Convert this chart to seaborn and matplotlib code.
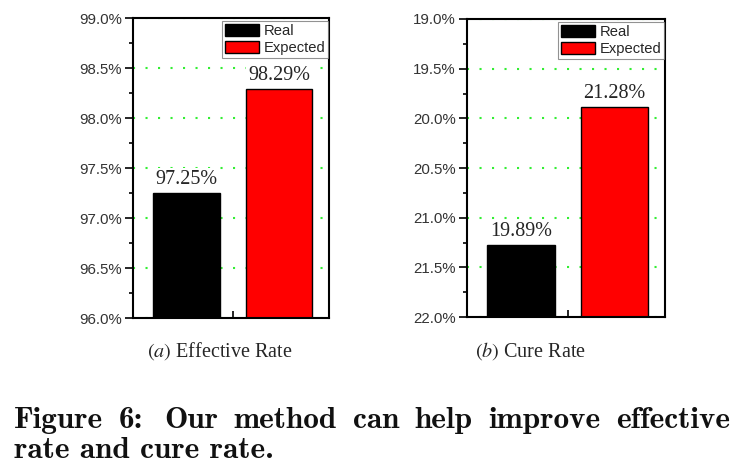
import matplotlib
matplotlib.use("Agg")
import matplotlib.pyplot as plt
from matplotlib.ticker import FixedLocator
from matplotlib.patches import Patch
import seaborn as sns
import pandas as pd

# ---- data ----
categories = ["Real", "Expected"]
effective_rate = [97.25, 98.29]
cure_rate = [19.89, 21.28]
effective_ticks = [96.0, 96.5, 97.0, 97.5, 98.0, 98.5, 99.0]
cure_tick_labels = [19.0, 19.5, 20.0, 20.5, 21.0, 21.5, 22.0]
cure_mirror = 41.17  # the reference's cure-rate axis runs reversed around this sum
bar_colors = ["#000000", "#ff0000"]
panel_titles = [r"$(a)$ Effective Rate", r"$(b)$ Cure Rate"]
caption_lines = ["Figure 6:  Our method can help improve effective",
                 "rate and cure rate."]

sns.set_theme(style="white")
plt.rcParams["mathtext.fontset"] = "stix"
plt.rcParams["font.family"] = ["Liberation Sans", "DejaVu Sans"]

W, H = 740, 475
fig = plt.figure(figsize=(7.4, 4.75), dpi=100)
ax1 = fig.add_axes([133 / W, 1 - 318 / H, 196 / W, 300 / H])
ax2 = fig.add_axes([467 / W, 1 - 317 / H, 198 / W, 298 / H])

palette = dict(zip(categories, bar_colors))


def draw(ax, values, ylim, tick_pos, tick_lab):
    df = pd.DataFrame({"cat": categories, "val": values})
    sns.barplot(data=df, x="cat", y="val", hue="cat", palette=palette,
                order=categories, hue_order=categories, legend=False,
                width=0.72, edgecolor="black", linewidth=1.0, saturation=1,
                ax=ax, zorder=3)
    ax.set_xlim(-0.578, 1.54)
    ax.set_ylim(*ylim)
    ax.set_xlabel("")
    ax.set_ylabel("")
    ax.yaxis.set_major_locator(FixedLocator(tick_pos))
    ax.set_yticklabels([f"{t:.1f}%" for t in tick_lab])
    ax.yaxis.set_minor_locator(FixedLocator(
        [(a + b) / 2 for a, b in zip(tick_pos[:-1], tick_pos[1:])]))
    ax.set_xticks([0.5])
    ax.set_xticklabels([""])
    ax.tick_params(axis="x", direction="in", length=5, width=1.2, bottom=True,
                   colors="black")
    ax.tick_params(axis="y", which="major", direction="out", length=6,
                   width=1.2, left=True, labelsize=10.8, pad=2,
                   labelcolor="#333333", color="black")
    ax.tick_params(axis="y", which="minor", direction="out", length=3,
                   width=1.2, left=True, color="black")
    for sp in ax.spines.values():
        sp.set_visible(True)
        sp.set_color("black")
        sp.set_linewidth(1.5)
        sp.set_zorder(5)
    for y in tick_pos:
        ax.axhline(y, color="#33ee33", linestyle=(0, (1, 5)), linewidth=1.5,
                   zorder=1)
    for bar, v in zip(ax.patches, values):
        ax.annotate(f"{v:.2f}%",
                    xy=(bar.get_x() + bar.get_width() / 2, bar.get_height()),
                    xytext=(0, 3), textcoords="offset points",
                    ha="center", va="bottom", fontsize=14.5,
                    family="Liberation Serif", zorder=4,
                    bbox=dict(facecolor="white", edgecolor="none", pad=1.5))
    handles = [Patch(facecolor=c, edgecolor="black", linewidth=1.0)
               for c in bar_colors]
    leg = ax.legend(handles, categories, loc="upper right",
                    bbox_to_anchor=(0.997, 0.99), fontsize=10.6,
                    frameon=True, fancybox=False, edgecolor="#777777",
                    borderaxespad=0.0, handlelength=2.3, handleheight=0.9,
                    handletextpad=0.3, borderpad=0.2, labelspacing=0.2)
    leg.get_frame().set_linewidth(0.8)
    leg.set_zorder(6)


draw(ax1, effective_rate, (96.0, 99.0), effective_ticks, effective_ticks)
cure_pos = [cure_mirror - t for t in cure_tick_labels]
draw(ax2, cure_rate, (cure_mirror - 22.0, cure_mirror - 19.0),
     cure_pos, cure_tick_labels)

for cx, title in zip([220, 530], panel_titles):
    fig.text(cx / W, 1 - 351 / H, title, ha="center",
             va="center", fontsize=14.5, family="Liberation Serif")

# caption, first line justified between x=14 and x=730
renderer = fig.canvas.get_renderer()
words = caption_lines[0].split()
cap_kw = dict(fontsize=22.5, family="cmb10", va="baseline", ha="left",
              color="#111111")
texts = [fig.text(0, 1 - 428 / H, w, **cap_kw) for w in words]
widths = [t.get_window_extent(renderer).width for t in texts]
x_left, x_right = 14, 730
gaps = len(words) - 1
extra_after_colon = 1.35
gap = (x_right - x_left - sum(widths)) / (gaps + extra_after_colon - 1)
x = x_left
for i, (t, w) in enumerate(zip(texts, widths)):
    t.set_x(x / W)
    x += w + gap * (extra_after_colon if words[i].endswith(":") else 1)
fig.text(14 / W, 1 - 458 / H, caption_lines[1], **cap_kw)

fig.savefig("out.png", dpi=100)
